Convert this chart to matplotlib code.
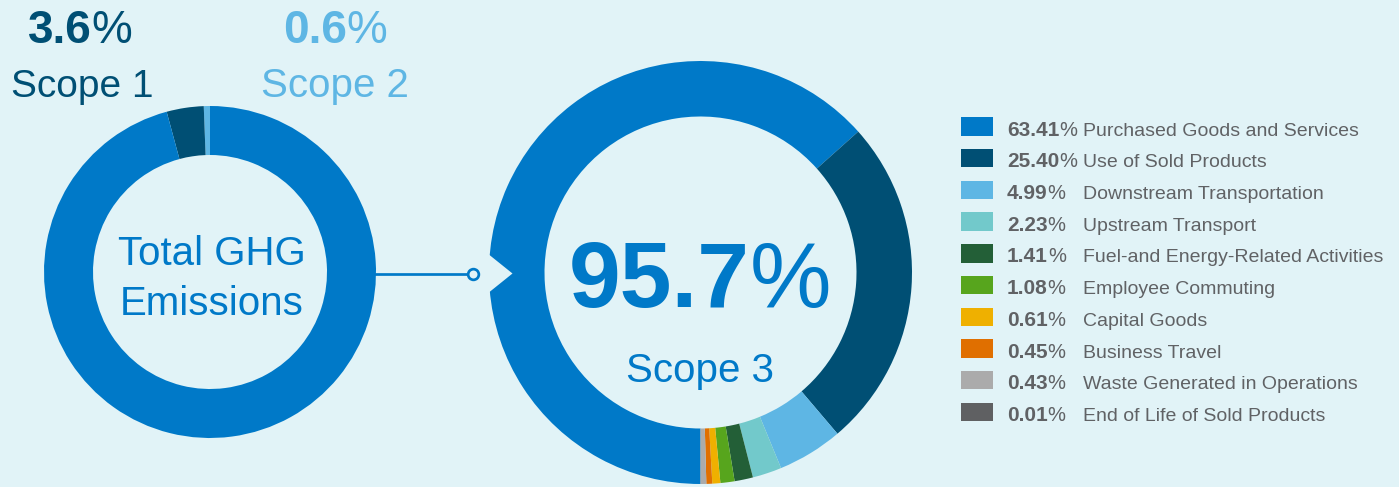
import matplotlib.pyplot as plt
from matplotlib.patches import Rectangle

# share of total GHG emissions by scope (%)
scopes = ['Scope 1', 'Scope 2', 'Scope 3']
scope_share = [3.6, 0.6, 95.7]

# breakdown of scope 3 (%)
categories = ['Purchased Goods and Services', 'Use of Sold Products',
              'Downstream Transportation', 'Upstream Transport',
              'Fuel-and Energy-Related Activities', 'Employee Commuting',
              'Capital Goods', 'Business Travel', 'Waste Generated in Operations',
              'End of Life of Sold Products']
cat_share = [63.41, 25.40, 4.99, 2.23, 1.41, 1.08, 0.61, 0.45, 0.43, 0.01]

BG = '#E1F3F7'
BLUE = '#0079C8'
DARK = '#004F74'
LIGHT = '#5EB6E4'
GREY_TXT = '#606265'
scope_colors = [DARK, LIGHT, BLUE]
cat_colors = [BLUE, DARK, LIGHT, '#72C9CB', '#235F37', '#57A51D',
              '#EFB000', '#E06F00', '#ABABAB', '#5F6062']

W, H = 1399, 487
SANS = 'Liberation Sans'


def y(v):
    # picture rows run downward, axes run upward
    return H - v


fig = plt.figure(figsize=(W / 100, H / 100), dpi=100, facecolor=BG)
ax = fig.add_axes([0, 0, 1, 1])
ax.set_facecolor(BG)

# left donut: scope 2 sits right next to 12 o'clock, scope 1 after it
order = [1, 0, 2]
ax.pie([scope_share[i] for i in order], colors=[scope_colors[i] for i in order],
       startangle=90, counterclock=True, radius=166, center=(210, y(272)),
       wedgeprops=dict(width=49, linewidth=0))

# right donut: scope 3 categories, clockwise from 6 o'clock
ax.pie(cat_share, colors=cat_colors, startangle=-90, counterclock=False,
       radius=211.5, center=(700.5, y(272.5)),
       wedgeprops=dict(width=55.5, linewidth=0))

ax.set_xlim(0, W)
ax.set_ylim(0, H)
ax.axis('off')

# notch in the scope 3 ring + connector
ax.fill([482, 512.5, 482], [y(249), y(273.5), y(298)], color=BG, lw=0, zorder=3)
ax.plot([370, 467], [y(273.5), y(273.5)], color=BLUE, lw=1.95,
        solid_capstyle='butt', zorder=4)
ax.plot([473], [y(273.5)], 'o', ms=7.7, mfc=BG, mec=BLUE, mew=1.95, zorder=5)

r = fig.canvas.get_renderer()


def pct_text(x, yb, num, color, size, pct_size, center=True):
    # bold number followed by a light % sign
    t1 = ax.text(0, y(yb), num, fontsize=size, fontweight='bold', family=SANS,
                 color=color, ha='left', va='baseline')
    t2 = ax.text(0, y(yb), '%', fontsize=pct_size, family=SANS,
                 color=color, ha='left', va='baseline')
    w1 = t1.get_window_extent(r).width
    w2 = t2.get_window_extent(r).width
    x0 = x - (w1 + w2) / 2 if center else x
    t1.set_x(x0)
    t2.set_x(x0 + w1)


pct_text(80, 43, f'{scope_share[0]:.1f}', DARK, 33, 33)
pct_text(335, 43, f'{scope_share[1]:.1f}', LIGHT, 33, 33)
ax.text(82, y(97), scopes[0], fontsize=28, family=SANS, color=DARK,
        ha='center', va='baseline')
ax.text(335, y(97), scopes[1], fontsize=29, family=SANS, color=LIGHT,
        ha='center', va='baseline')

ax.text(212, y(265), 'Total GHG', fontsize=29, family=SANS, color=BLUE,
        ha='center', va='baseline')
ax.text(212, y(315), 'Emissions', fontsize=29, family=SANS, color=BLUE,
        ha='center', va='baseline')

pct_text(700, 306.5, f'{scope_share[2]:.1f}', BLUE, 67, 66)
ax.text(700.5, y(381.5), scopes[2], fontsize=29, family=SANS, color=BLUE,
        ha='center', va='baseline')

# legend
for i, (name, val, col) in enumerate(zip(categories, cat_share, cat_colors)):
    base = 135.7 + i * 31.7
    ax.add_patch(Rectangle((961, y(base)), 32, 18.4, color=col, lw=0))
    pct_text(1007, base, f'{val:.2f}', GREY_TXT, 15, 14.5, center=False)
    ax.text(1083, y(base), name, fontsize=14, family=SANS, color=GREY_TXT,
            ha='left', va='baseline')

fig.savefig('out.png', dpi=100, facecolor=BG)
